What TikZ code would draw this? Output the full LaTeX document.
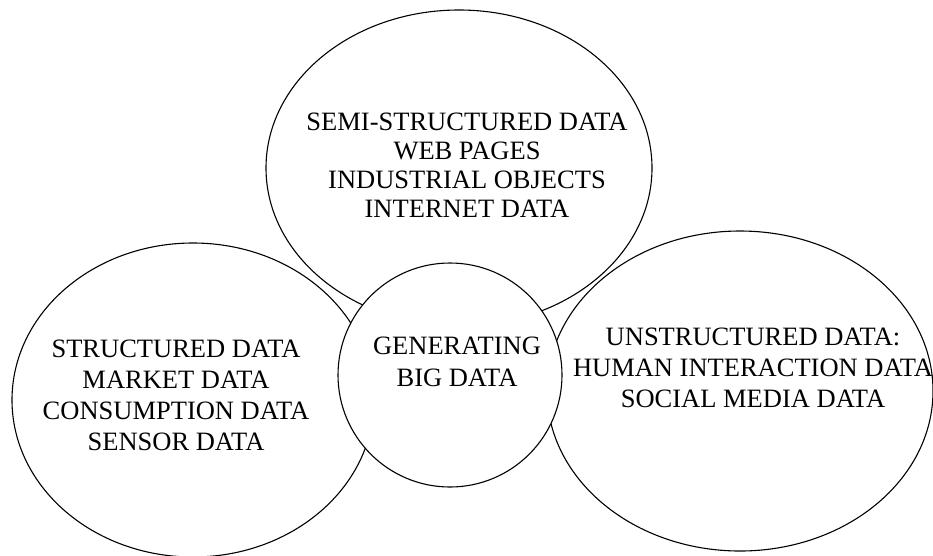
\documentclass[tikz,border=0pt]{standalone}
\usepackage{fontspec}
\setmainfont{Liberation Serif}
\usetikzlibrary{shapes.geometric}
\begin{document}
\begin{tikzpicture}[x=1pt,y=-1pt,
  blob/.style={draw=black, line width=1.1pt, ellipse, inner sep=0pt},
  hub/.style={draw=black, line width=1.1pt, circle, fill=white, inner sep=0pt},
  lbl/.style={align=center, inner sep=0pt, text=black}]
\useasboundingbox (0,0) rectangle (933,555);
\node[blob, minimum width=386pt, minimum height=316pt] (semi) at (459,168) {};
\node[blob, minimum width=362pt, minimum height=314pt] (struct) at (193,400) {};
\node[blob, minimum width=386pt, minimum height=320pt] (unstruct) at (740,391) {};
\node[hub, minimum size=224pt] (gen) at (450,375) {};
\node[lbl, font=\fontsize{26.5}{29}\selectfont] (semitxt) at (467,165.5)
  {SEMI-STRUCTURED DATA\\WEB PAGES\\INDUSTRIAL OBJECTS\\INTERNET DATA};
\node[lbl, font=\fontsize{26.5}{31}\selectfont] (structtxt) at (176,395.3)
  {STRUCTURED DATA\\MARKET DATA\\CONSUMPTION DATA\\SENSOR DATA};
\node[lbl, font=\fontsize{26.5}{31}\selectfont] (unstructtxt) at (753,367.4)
  {UNSTRUCTURED DATA:\\HUMAN INTERACTION DATA\\SOCIAL MEDIA DATA};
\node[lbl, font=\fontsize{26.5}{32.7}\selectfont] (gentxt) at (457,361.7)
  {GENERATING\\BIG DATA};
\end{tikzpicture}
\end{document}
